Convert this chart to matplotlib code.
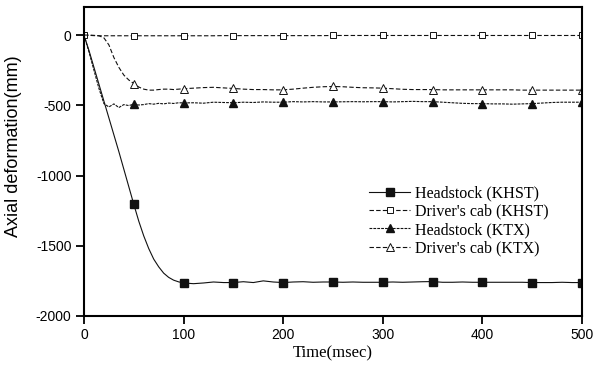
import matplotlib.pyplot as plt

plt.rcParams['axes.unicode_minus'] = False

# Time axis (msec): 5 ms steps during the impact, 10 ms steps afterwards
time_ms = [0, 5, 10, 15, 20, 25, 30, 35, 40, 45, 50, 55, 60, 65, 70, 75, 80, 85, 90, 95, 100,
           110, 120, 130, 140, 150, 160, 170, 180, 190, 200,
           210, 220, 230, 240, 250, 260, 270, 280, 290, 300,
           310, 320, 330, 340, 350, 360, 370, 380, 390, 400,
           410, 420, 430, 440, 450, 460, 470, 480, 490, 500]

headstock_khst = [0, -110, -230, -350, -470, -590, -710, -830, -955, -1080, -1205,
                  -1325, -1430, -1520, -1595, -1650, -1695, -1725, -1745, -1757, -1765,
                  -1770, -1765, -1758, -1762, -1762, -1756, -1762, -1750, -1758, -1762,
                  -1758, -1756, -1760, -1758, -1758, -1760, -1758, -1760, -1760, -1760,
                  -1758, -1760, -1758, -1756, -1755, -1760, -1760, -1758, -1760, -1760,
                  -1760, -1760, -1760, -1760, -1762, -1762, -1762, -1760, -1762, -1762]

cab_khst = [0, -2, -4, -5, -5, -5, -5, -5, -5, -5, -5,
            -5, -5, -5, -5, -5, -5, -5, -5, -5, -5,
            -5, -5, -5, -4, -4, -4, -4, -4, -4, -4,
            -4, -4, -4, -4, -3, -3, -3, -3, -3, -3,
            -3, -3, -3, -3, -3, -3, -3, -3, -3, -3,
            -3, -3, -3, -3, -3, -3, -3, -3, -3, -3]

headstock_ktx = [0, -120, -250, -380, -488, -512, -490, -516, -495, -502, -492,
                 -498, -495, -488, -492, -486, -490, -484, -487, -482, -483,
                 -482, -485, -478, -480, -482, -478, -480, -476, -478, -478,
                 -474, -476, -474, -476, -476, -475, -474, -475, -474, -474,
                 -476, -474, -472, -474, -474, -478, -482, -486, -488, -488,
                 -490, -490, -492, -490, -488, -484, -480, -478, -478, -478]

cab_ktx = [0, 0, -2, -5, -20, -70, -160, -230, -285, -320, -345,
           -370, -385, -392, -392, -388, -385, -385, -388, -385, -382,
           -378, -374, -372, -376, -380, -385, -388, -388, -390, -390,
           -385, -378, -372, -368, -366, -368, -372, -375, -376, -378,
           -382, -386, -388, -388, -388, -390, -390, -390, -390, -390,
           -390, -390, -390, -392, -392, -392, -392, -392, -392, -392]

legend_labels = ['Headstock (KHST)', "Driver's cab (KHST)", 'Headstock (KTX)', "Driver's cab (KTX)"]

# markers every 50 ms
marks = [i for i, t in enumerate(time_ms) if t % 50 == 0 and t > 0]
marks_with_zero = [i for i, t in enumerate(time_ms) if t % 50 == 0]

fig = plt.figure(figsize=(5.94, 3.67), dpi=100)
ax = fig.add_axes([0.1414, 0.139, 0.8384, 0.842])

ink = '#111111'
ax.plot(time_ms, headstock_khst, color=ink, lw=0.8, ls='-',
        marker='s', ms=5.5, mfc=ink, mec=ink, markevery=marks, label=legend_labels[0])
ax.plot(time_ms, cab_khst, color=ink, lw=0.8, ls=(0, (4, 2)),
        marker='s', ms=5, mfc='white', mec=ink, mew=0.7, markevery=marks_with_zero,
        label=legend_labels[1])
ax.plot(time_ms, headstock_ktx, color=ink, lw=0.8, ls=(0, (2.5, 1)),
        marker='^', ms=5.5, mfc=ink, mec=ink, markevery=marks, label=legend_labels[2])
ax.plot(time_ms, cab_ktx, color=ink, lw=0.8, ls=(0, (4, 2)),
        marker='^', ms=5.5, mfc='white', mec=ink, mew=0.7, markevery=marks,
        label=legend_labels[3])

ax.set_xlim(0, 500)
ax.set_ylim(-2000, 200)
ax.set_xticks([0, 100, 200, 300, 400, 500])
ax.set_yticks([0, -500, -1000, -1500, -2000])

for side in ['left', 'bottom', 'top', 'right']:
    ax.spines[side].set_linewidth(1.5)
    ax.spines[side].set_color('black')

ax.tick_params(direction='out', length=6, width=1.3, pad=3,
               labelsize=10, top=False, right=False)
for lbl in ax.get_xticklabels() + ax.get_yticklabels():
    lbl.set_family('Liberation Sans')

ax.set_xlabel('Time(msec)', family='Liberation Serif', fontsize=12)
ax.xaxis.set_label_coords(0.5, -0.094)
ax.set_ylabel('Axial deformation(mm)', family='Liberation Sans', fontsize=13)
ax.yaxis.set_label_coords(-0.124, 0.55)

leg = ax.legend(loc='upper left', bbox_to_anchor=(0.572, 0.423), frameon=False,
                prop={'family': 'Liberation Serif', 'size': 11.5},
                handlelength=2.6, handletextpad=0.3, labelspacing=0.15,
                borderpad=0, borderaxespad=0)

fig.savefig('out.png', dpi=100)
